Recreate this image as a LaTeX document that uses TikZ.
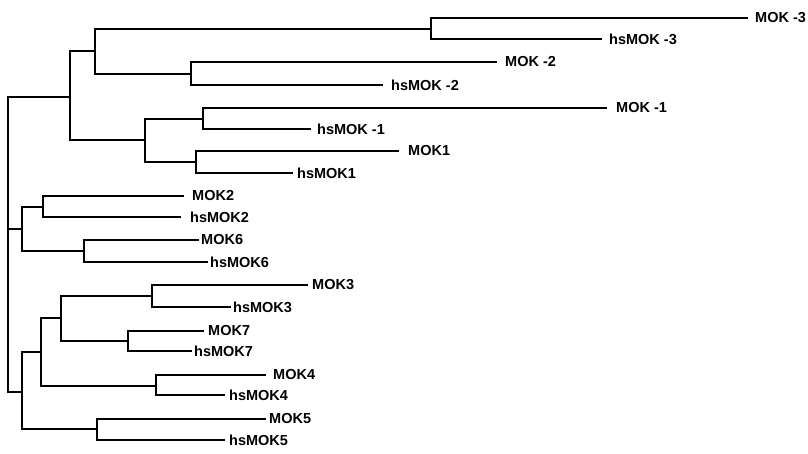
\documentclass[tikz,border=0pt]{standalone}
\usepackage{fontspec}
\setmainfont{Liberation Sans}
\newcommand\myleaf[5]{\coordinate (#1e) at (#2,#4); \node[lab] (#1) at (#3,#4) {#5};}
\begin{document}
\begin{tikzpicture}[x=1pt,y=-1pt,
  br/.style={line width=1.2pt, black},
  lab/.style={anchor=west, inner sep=0pt, font=\fontsize{14.5}{16}\selectfont\bfseries}]
\useasboundingbox (0,0) rectangle (808,453);
% internal nodes
\coordinate (root) at (8,229);
\coordinate (A) at (70,97);
\coordinate (B) at (95,51);
\coordinate (P3) at (431,29);
\coordinate (P2) at (191,74);
\coordinate (C) at (145,140);
\coordinate (P1m) at (203,119);
\coordinate (P1) at (196,162);
\coordinate (D) at (22,229);
\coordinate (P2p) at (43,207);
\coordinate (P6) at (84,251);
\coordinate (E) at (22,392);
\coordinate (F) at (41,352);
\coordinate (G) at (61,318);
\coordinate (P3p) at (152,296);
\coordinate (P7) at (128,341);
\coordinate (P4) at (156,386);
\coordinate (P5) at (97,429);
% leaves
\myleaf{mokm3}{748}{755}{18}{MOK -3}
\myleaf{hsmokm3}{602}{609}{39}{hsMOK -3}
\myleaf{mokm2}{497}{505}{62}{MOK -2}
\myleaf{hsmokm2}{383}{391}{85}{hsMOK -2}
\myleaf{mokm1}{607}{616}{108}{MOK -1}
\myleaf{hsmokm1}{311}{317}{129}{hsMOK -1}
\myleaf{mok1}{399}{408}{151}{MOK1}
\myleaf{hsmok1}{293}{297}{173}{hsMOK1}
\myleaf{mok2}{184}{192}{196}{MOK2}
\myleaf{hsmok2}{181}{190}{217}{hsMOK2}
\myleaf{mok6}{199}{201}{240}{MOK6}
\myleaf{hsmok6}{208}{210}{262}{hsMOK6}
\myleaf{mok3}{308}{312}{285}{MOK3}
\myleaf{hsmok3}{231}{233}{307}{hsMOK3}
\myleaf{mok7}{204}{208}{331}{MOK7}
\myleaf{hsmok7}{192}{194}{351}{hsMOK7}
\myleaf{mok4}{266}{273}{375}{MOK4}
\myleaf{hsmok4}{225}{229}{395}{hsMOK4}
\myleaf{mok5}{266}{269}{419}{MOK5}
\myleaf{hsmok5}{225}{229}{440}{hsMOK5}
% branches
\draw[br] (root) |- (A);
\draw[br] (root) |- (D);
\draw[br] (root) |- (E);
\draw[br] (A) |- (B);
\draw[br] (A) |- (C);
\draw[br] (B) |- (P3);
\draw[br] (B) |- (P2);
\draw[br] (P3) |- (mokm3e);
\draw[br] (P3) |- (hsmokm3e);
\draw[br] (P2) |- (mokm2e);
\draw[br] (P2) |- (hsmokm2e);
\draw[br] (C) |- (P1m);
\draw[br] (C) |- (P1);
\draw[br] (P1m) |- (mokm1e);
\draw[br] (P1m) |- (hsmokm1e);
\draw[br] (P1) |- (mok1e);
\draw[br] (P1) |- (hsmok1e);
\draw[br] (D) |- (P2p);
\draw[br] (D) |- (P6);
\draw[br] (P2p) |- (mok2e);
\draw[br] (P2p) |- (hsmok2e);
\draw[br] (P6) |- (mok6e);
\draw[br] (P6) |- (hsmok6e);
\draw[br] (E) |- (F);
\draw[br] (E) |- (P5);
\draw[br] (F) |- (G);
\draw[br] (F) |- (P4);
\draw[br] (G) |- (P3p);
\draw[br] (G) |- (P7);
\draw[br] (P3p) |- (mok3e);
\draw[br] (P3p) |- (hsmok3e);
\draw[br] (P7) |- (mok7e);
\draw[br] (P7) |- (hsmok7e);
\draw[br] (P4) |- (mok4e);
\draw[br] (P4) |- (hsmok4e);
\draw[br] (P5) |- (mok5e);
\draw[br] (P5) |- (hsmok5e);
\end{tikzpicture}
\end{document}
